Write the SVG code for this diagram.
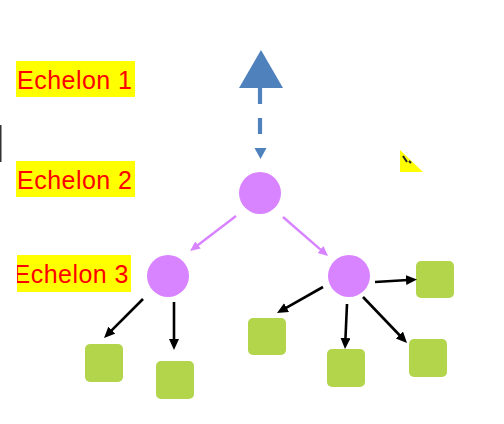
<svg xmlns="http://www.w3.org/2000/svg" width="504" height="424" viewBox="0 0 504 424">
<style>
.lbl{font-family:"Liberation Sans",Arial,sans-serif;font-size:25px;fill:#FF0000}
.hl{fill:#FFFF00}
.circ{fill:#D883FF}
.sq{fill:#B3D54C}
.blk{stroke:#000;stroke-width:2.6;fill:none}
.pnk{stroke:#D883FF;stroke-width:2.4;fill:none}
</style>
<defs>
<marker id="ah" markerUnits="userSpaceOnUse" markerWidth="13" markerHeight="11" refX="2" refY="5" orient="auto"><path d="M0,0 L11,5 L0,10 z" fill="#000"/></marker>
<marker id="ap" markerUnits="userSpaceOnUse" markerWidth="11" markerHeight="10" refX="2" refY="4.5" orient="auto"><path d="M0,0 L10,4.5 L0,9 z" fill="#D883FF"/></marker>
<clipPath id="c3"><rect x="17" y="255" width="114" height="37"/></clipPath>
</defs>
<rect width="504" height="424" fill="#fff"/>
<g id="label1"><rect class="hl" x="16" y="61" width="119" height="36"/><text class="lbl" x="17" y="89" textLength="115">Echelon 1</text></g>
<g id="label2"><rect class="hl" x="16" y="161" width="119" height="36"/><text class="lbl" x="17" y="189" textLength="115">Echelon 2</text></g>
<g id="label3"><rect class="hl" x="17" y="255" width="114" height="37"/><text class="lbl" x="13.5" y="283" textLength="115" clip-path="url(#c3)">Echelon 3</text></g>
<g id="mark"><rect x="0" y="125" width="1.5" height="37" fill="#333"/></g>
<g id="corner"><polygon points="400,150 400,172 423,172" fill="#FFFF00"/><path d="M403,156 L407,162 M409,161 L411,163" stroke="#222" stroke-width="2"/></g>
<g id="top"><polygon points="261,50 239,88 283,88" fill="#4F81BD"/></g>
<g id="root"><circle class="circ" cx="260" cy="193" r="21"/></g>
<g id="midL"><circle class="circ" cx="168" cy="276" r="21"/></g>
<g id="midR"><circle class="circ" cx="349" cy="276" r="21"/></g>
<g id="sqA"><rect class="sq" x="85" y="344" width="38" height="38" rx="5"/></g>
<g id="sqB"><rect class="sq" x="156" y="361" width="38" height="38" rx="5"/></g>
<g id="sqC"><rect class="sq" x="248" y="318" width="38" height="37" rx="5"/></g>
<g id="sqD"><rect class="sq" x="327" y="349" width="38" height="38" rx="5"/></g>
<g id="sqE"><rect class="sq" x="409" y="339" width="38" height="38" rx="5"/></g>
<g id="sqF"><rect class="sq" x="416" y="261" width="38" height="37" rx="5"/></g>
<g id="connectors">
<line x1="260" y1="88" x2="260" y2="134" stroke="#4F81BD" stroke-width="4.2" stroke-dasharray="16 14"/>
<polygon points="254.5,148 266.5,148 260.5,159" fill="#4F81BD"/>
<line class="pnk" x1="236" y1="216" x2="196.4" y2="246.2" marker-end="url(#ap)"/>
<line class="pnk" x1="283" y1="217" x2="322" y2="250.8" marker-end="url(#ap)"/>
<line class="blk" x1="143" y1="299" x2="110.4" y2="331.6" marker-end="url(#ah)"/>
<line class="blk" x1="174" y1="302" x2="174" y2="341" marker-end="url(#ah)"/>
<line class="blk" x1="323" y1="287" x2="284.8" y2="308.6" marker-end="url(#ah)"/>
<line class="blk" x1="347" y1="304" x2="345.4" y2="340" marker-end="url(#ah)"/>
<line class="blk" x1="363" y1="297" x2="400.8" y2="336.5" marker-end="url(#ah)"/>
<line class="blk" x1="375" y1="282" x2="408" y2="280" marker-end="url(#ah)"/>
</g>
</svg>
